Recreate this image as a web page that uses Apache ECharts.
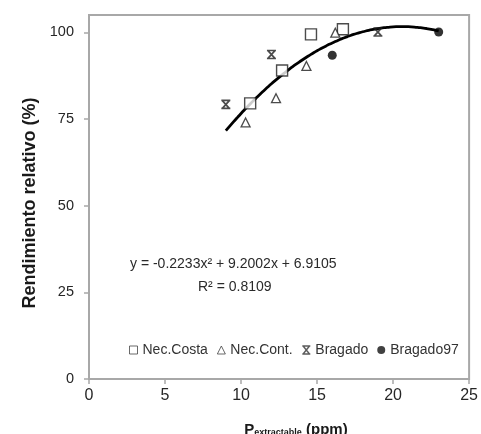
<!DOCTYPE html>
<html>
<head>
<meta charset="utf-8">
<script src="https://cdn.jsdelivr.net/npm/echarts@6/dist/echarts.min.js"></script>
<style>
  html, body { margin: 0; padding: 0; background: #fff; }
  #chart { width: 481px; height: 434px; }
</style>
</head>
<body>
<div id="chart"></div>
<script>
// Relative yield vs. extractable P, four sites, with quadratic fit
const necCosta  = [[10.6, 79.5], [12.7, 89.0], [14.6, 99.4], [16.7, 100.9]];
const necCont   = [[10.3, 74.0], [12.3, 81.0], [14.3, 90.3], [16.2, 99.9]];
const bragado   = [[9.0, 79.2], [12.0, 93.6], [19.0, 100.1]];
const bragado97 = [[16.0, 93.4], [23.0, 100.1]];

// Fitted polynomial y = a*x^2 + b*x + c and its R^2
const fitCoef = [-0.2233, 9.2002, 6.9105];
const fitR2 = 0.8109;

const xTicks = [0, 5, 10, 15, 20, 25];
const yTicks = [0, 25, 50, 75, 100];

// Trend line spans the observed x range
const allX = [].concat(necCosta, necCont, bragado, bragado97).map(p => p[0]);
const xLo = Math.min.apply(null, allX), xHi = Math.max.apply(null, allX);
const fitLine = [];
for (let i = 0; i <= 70; i++) {
  const x = xLo + (xHi - xLo) * i / 70;
  fitLine.push([x, fitCoef[0] * x * x + fitCoef[1] * x + fitCoef[2]]);
}

const ink = '#1e1e1e';
const font = 'Liberation Sans, Arial, sans-serif';
const crossPath = 'path://M0,0 L10,0 M0,10 L10,10 M1,0 L9,10 M9,0 L1,10';

const chart = echarts.init(document.getElementById('chart'), null, { renderer: 'canvas' });
chart.setOption({
  backgroundColor: '#fff',
  animation: false,
  textStyle: { fontFamily: font },
  grid: {
    left: 89, top: 15, right: 11, bottom: 55,
    show: true, borderColor: '#a8a8a8', borderWidth: 2, backgroundColor: 'transparent'
  },
  xAxis: {
    type: 'value', min: 0, max: 25, interval: 5,
    axisLine: { show: true, lineStyle: { color: '#a8a8a8', width: 2 } },
    axisTick: { show: true, length: 5, lineStyle: { color: '#a8a8a8', width: 1.5 }, customValues: xTicks },
    axisLabel: { margin: 9, fontSize: 16, color: '#262626', customValues: xTicks },
    splitLine: { show: false }
  },
  yAxis: {
    type: 'value', min: 0, max: 105, interval: 25,
    axisLine: { show: true, lineStyle: { color: '#a8a8a8', width: 2 } },
    axisTick: { show: true, length: 5, lineStyle: { color: '#a8a8a8', width: 1.5 }, customValues: yTicks },
    axisLabel: { margin: 15, fontSize: 14.5, color: '#262626', customValues: yTicks },
    splitLine: { show: false }
  },
  legend: {
    left: 124, top: 338, itemGap: 9, itemWidth: 8, itemHeight: 8,
    textStyle: { fontSize: 14, color: '#333', fontFamily: font },
    data: [
      { name: 'Nec.Costa', icon: 'rect', itemStyle: { color: '#fff', borderColor: '#444', borderWidth: 1 } },
      { name: 'Nec.Cont.', icon: 'triangle', itemStyle: { color: '#fff', borderColor: '#444', borderWidth: 1 } },
      { name: 'Bragado', icon: crossPath, itemStyle: { color: 'transparent', borderColor: '#333', borderWidth: 1.4 } },
      { name: 'Bragado97', icon: 'circle', itemStyle: { color: '#111' } }
    ]
  },
  series: [
    {
      name: 'fit', type: 'line', data: fitLine, showSymbol: false, smooth: true,
      lineStyle: { color: '#000', width: 2.8 }, z: 3, silent: true
    },
    {
      name: 'Nec.Costa', type: 'scatter', data: necCosta, symbol: 'rect', symbolSize: 11,
      itemStyle: { color: '#fff', borderColor: ink, borderWidth: 1.4 }, z: 4
    },
    {
      name: 'Nec.Cont.', type: 'scatter', data: necCont, symbol: 'triangle', symbolSize: 9,
      itemStyle: { color: '#fff', borderColor: ink, borderWidth: 1.3 }, z: 4
    },
    {
      name: 'Bragado', type: 'scatter', data: bragado, symbol: crossPath, symbolSize: [9, 8],
      itemStyle: { color: 'transparent', borderColor: ink, borderWidth: 1.8 }, z: 4
    },
    {
      name: 'Bragado97', type: 'scatter', data: bragado97, symbol: 'circle', symbolSize: 9,
      itemStyle: { color: '#000' }, z: 4
    }
  ],
  graphic: [
    {
      type: 'text', left: 130, top: 257,
      style: {
        text: 'y = ' + fitCoef[0] + 'x² + ' + fitCoef[1] + 'x + ' + fitCoef[2],
        fontSize: 14, fill: '#2a2a2a', fontFamily: font
      }
    },
    {
      type: 'text', left: 198, top: 280,
      style: {
        text: 'R² = ' + fitR2,
        fontSize: 14, fill: '#2a2a2a', fontFamily: font
      }
    },
    {
      type: 'text', x: 30, y: 203, rotation: Math.PI / 2,
      style: {
        text: 'Rendimiento relativo (%)', align: 'center', verticalAlign: 'middle',
        fontSize: 18, fontWeight: 'bold', fill: '#1a1a1a', fontFamily: font
      }
    },
    {
      type: 'text', x: 296, y: 430,
      style: {
        text: '{p|P}{s|extractable}{p| (ppm)}', align: 'center', verticalAlign: 'middle',
        fill: '#1a1a1a', fontFamily: font,
        rich: {
          p: { fontSize: 15, fontWeight: 'bold', fill: '#1a1a1a', verticalAlign: 'bottom' },
          s: { fontSize: 9, fontWeight: 'bold', fill: '#1a1a1a', verticalAlign: 'bottom' }
        }
      }
    }
  ]
});
</script>
</body>
</html>
